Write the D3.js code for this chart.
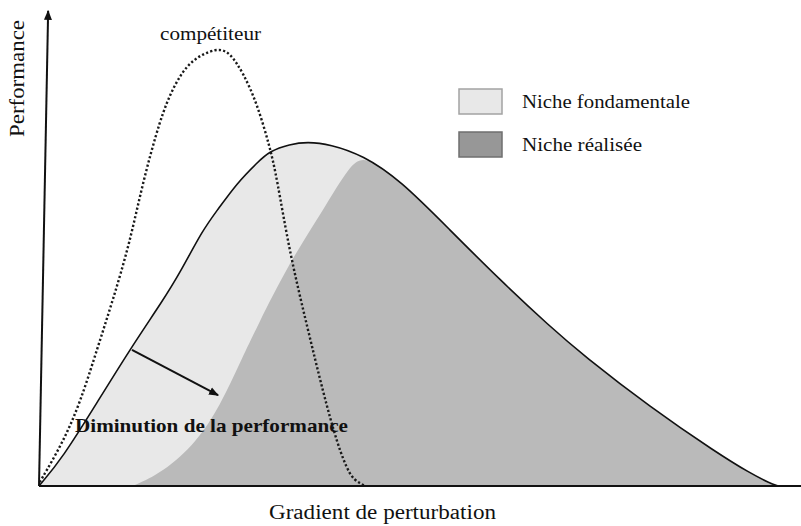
<!DOCTYPE html>
<html>
<head>
<meta charset="utf-8">
<script src="https://cdn.jsdelivr.net/npm/d3@7"></script>
<style>
  html, body { margin: 0; padding: 0; background: #fff; }
  svg { display: block; }
  text { font-family: "Liberation Serif", "Times New Roman", serif; fill: #111; }
</style>
</head>
<body>
<div id="chart"></div>
<script>
// gradient (0-100) / performance (0-100)
const fundamental = [
  [0, 0], [3.1, 5.9], [7.6, 17.4], [11.9, 28.5], [16.3, 38.9], [18.5, 44.6],
  [21.5, 53.6], [23.4, 57.7], [26.0, 63.4], [28.6, 67.6], [30.3, 70.1],
  [32.9, 71.5], [35.2, 72.0], [38.2, 71.5], [42.5, 69.2], [47.4, 64.0],
  [53.9, 53.6], [60.5, 43.1], [67.1, 33.3], [71.4, 27.4], [80.2, 16.5],
  [89.0, 6.9], [93.3, 2.7], [95.9, 0.6], [97.0, 0]
];

// left edge of the realised niche, it then follows the fundamental curve
const realisedEdge = [
  [12.3, 0], [16.3, 2.9], [20.7, 9.2], [23.8, 16.9], [26.4, 25.9],
  [28.6, 33.3], [32.9, 46.9], [37.3, 57.7], [40.8, 67.2], [42.8, 69.2]
];

const competitor = [
  [0.1, 0.8], [3.1, 9.0], [5.4, 17.4], [7.6, 28.5], [9.7, 38.9], [11.9, 50.8],
  [13.6, 63.4], [15.9, 76.8], [17.6, 83.5], [19.8, 89.1], [23.4, 91.8],
  [25.1, 90.6], [26.8, 86.4], [28.6, 80.1], [30.3, 70.9], [31.2, 64.6],
  [32.9, 48.7], [35.2, 33.3], [37.3, 19.5], [39.1, 9.0], [40.8, 1.9],
  [42.1, 0.6], [42.8, 0]
];

// arrow "diminution de la performance": start, end
const arrowPts = [[12.2, 28.5], [23.5, 19.0]];

const legendLabels = ["Niche fondamentale", "Niche réalisée"];
const legendColors = ["#e8e8e8", "#979797"];
const legendStrokes = ["#a3a3a3", "#6f6f6f"];

const width = 801, height = 526;

const x = d3.scaleLinear().domain([0, 100]).range([39, 801]);
const y = d3.scaleLinear().domain([0, 100]).range([486, 8]);

const svg = d3.select("#chart").append("svg")
  .attr("width", width)
  .attr("height", height)
  .attr("viewBox", `0 0 ${width} ${height}`);

const defs = svg.append("defs");
defs.append("marker")
  .attr("id", "head")
  .attr("viewBox", "0 0 10 10")
  .attr("refX", 9).attr("refY", 5)
  .attr("markerWidth", 5).attr("markerHeight", 5)
  .attr("markerUnits", "strokeWidth")
  .attr("orient", "auto")
  .append("path")
  .attr("d", "M0,1 L10,5 L0,9 Z")
  .attr("fill", "#111");

const curve = d3.curveBasis;

const area = d3.area()
  .x(d => x(d[0]))
  .y0(y(0))
  .y1(d => y(d[1]))
  .curve(curve);

const line = d3.line()
  .x(d => x(d[0]))
  .y(d => y(d[1]))
  .curve(curve);

// fundamental niche (light)
svg.append("path")
  .datum(fundamental)
  .attr("d", area)
  .attr("fill", "#e8e8e8");

// realised niche (darker)
const lastEdge = realisedEdge[realisedEdge.length - 1][0];
const realised = realisedEdge.concat(fundamental.filter(d => d[0] > lastEdge + 0.5));
svg.append("path")
  .datum(realised)
  .attr("d", area)
  .attr("fill", "#bababa");

// competitor, dotted
svg.append("path")
  .datum(competitor)
  .attr("d", line)
  .attr("fill", "none")
  .attr("stroke", "#1a1a1a")
  .attr("stroke-width", 2.4)
  .attr("stroke-dasharray", "2.2,2.2");

// fundamental niche outline
svg.append("path")
  .datum(fundamental)
  .attr("d", line)
  .attr("fill", "none")
  .attr("stroke", "#111")
  .attr("stroke-width", 1.6);

// axes
svg.append("line")
  .attr("x1", x(0)).attr("y1", y(0))
  .attr("x2", width).attr("y2", y(0))
  .attr("stroke", "#111")
  .attr("stroke-width", 2.2);

svg.append("line")
  .attr("x1", x(0)).attr("y1", y(0))
  .attr("x2", x(1.2)).attr("y2", y(99.4))
  .attr("stroke", "#111")
  .attr("stroke-width", 2)
  .attr("marker-end", "url(#head)");

// arrow
svg.append("line")
  .attr("x1", x(arrowPts[0][0])).attr("y1", y(arrowPts[0][1]))
  .attr("x2", x(arrowPts[1][0])).attr("y2", y(arrowPts[1][1]))
  .attr("stroke", "#111")
  .attr("stroke-width", 2)
  .attr("marker-end", "url(#head)");

// labels
svg.append("text")
  .attr("x", 160).attr("y", 40)
  .attr("font-size", 19)
  .attr("textLength", 101)
  .attr("lengthAdjust", "spacingAndGlyphs")
  .text("compétiteur");

svg.append("text")
  .attr("x", 75).attr("y", 432)
  .attr("font-size", 19.5)
  .attr("font-weight", "bold")
  .attr("textLength", 273)
  .attr("lengthAdjust", "spacingAndGlyphs")
  .text("Diminution de la performance");

svg.append("text")
  .attr("transform", "translate(24,137) rotate(-90)")
  .attr("font-size", 20)
  .attr("textLength", 117)
  .attr("lengthAdjust", "spacingAndGlyphs")
  .text("Performance");

svg.append("text")
  .attr("x", 269).attr("y", 519)
  .attr("font-size", 20)
  .attr("textLength", 227)
  .attr("lengthAdjust", "spacingAndGlyphs")
  .text("Gradient de perturbation");

// legend
const legend = svg.append("g").attr("transform", "translate(459,89)");
const item = legend.selectAll("g")
  .data(legendLabels)
  .join("g")
  .attr("transform", (d, i) => `translate(0,${i * 43})`);

item.append("rect")
  .attr("width", 43).attr("height", 25)
  .attr("fill", (d, i) => legendColors[i])
  .attr("stroke", (d, i) => legendStrokes[i])
  .attr("stroke-width", 1.5);

item.append("text")
  .attr("x", 63).attr("y", 19)
  .attr("font-size", 18.5)
  .attr("textLength", (d, i) => [168, 120][i])
  .attr("lengthAdjust", "spacingAndGlyphs")
  .text(d => d);
</script>
</body>
</html>
